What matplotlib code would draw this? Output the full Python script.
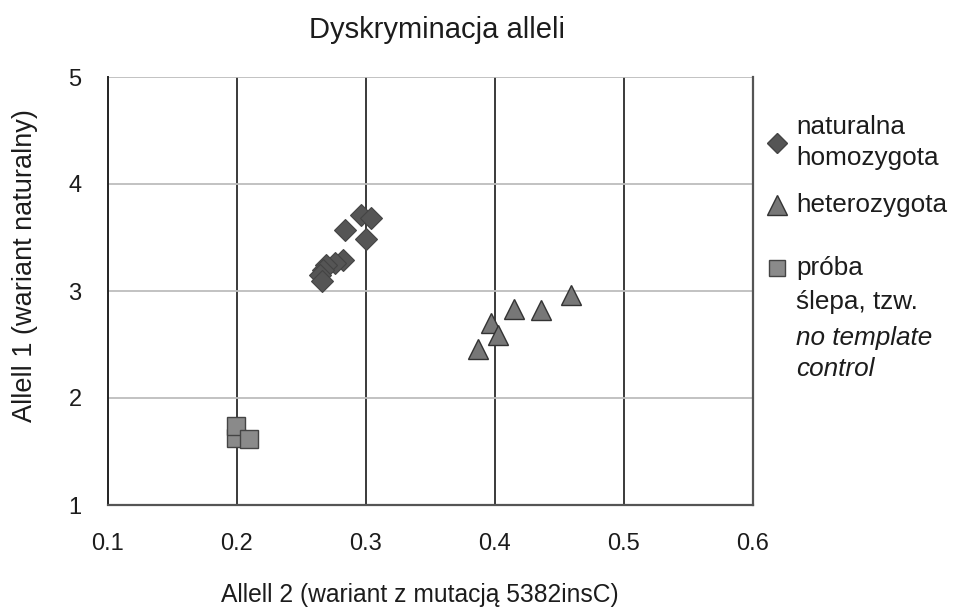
import matplotlib
matplotlib.use('Agg')
import matplotlib.pyplot as plt
from matplotlib.lines import Line2D

plt.rcParams['font.family'] = ['Liberation Sans', 'DejaVu Sans']

# data
homo_x = [0.296, 0.304, 0.284, 0.300, 0.282, 0.276, 0.269, 0.267, 0.264, 0.266]
homo_y = [3.71, 3.68, 3.57, 3.49, 3.29, 3.26, 3.24, 3.20, 3.15, 3.09]
hetero_x = [0.387, 0.397, 0.402, 0.4145, 0.436, 0.459]
hetero_y = [2.46, 2.70, 2.59, 2.83, 2.82, 2.96]
ntc_x = [0.199, 0.199, 0.209]
ntc_y = [1.63, 1.74, 1.62]

x_ticks = [0.1, 0.2, 0.3, 0.4, 0.5, 0.6]
y_ticks = [1, 2, 3, 4, 5]

TXT = '#1c1c1c'
W, H = 954, 614
fig = plt.figure(figsize=(W / 100, H / 100), dpi=100)
ax = fig.add_axes([108 / W, 1 - 505 / H, (753 - 108) / W, (505 - 77) / H])

ax.set_xlim(0.1, 0.6)
ax.set_ylim(1, 5)
ax.set_xticks(x_ticks)
ax.set_yticks(y_ticks)
ax.set_xticklabels(['%.1f' % v for v in x_ticks])
ax.set_yticklabels([str(v) for v in y_ticks])
ax.tick_params(length=0, labelsize=17, colors=TXT)
ax.tick_params(axis='x', pad=20)
ax.tick_params(axis='y', pad=19)

# grid: dark verticals, light horizontals
for v in x_ticks[1:-1]:
    ax.axvline(v, color='#3a3a3a', lw=1.4, zorder=1)
for v in y_ticks[1:]:
    ax.axhline(v, color='#bdbdbd', lw=1.3, zorder=1)

ax.spines['top'].set_visible(False)
ax.spines['left'].set_color('#222222')
ax.spines['left'].set_linewidth(1.4)
ax.spines['bottom'].set_color('#555555')
ax.spines['bottom'].set_linewidth(1.6)
ax.spines['right'].set_color('#555555')
ax.spines['right'].set_linewidth(1.6)

ax.plot(homo_x, homo_y, ls='none', marker='D', ms=11, mfc='#555555',
        mec='#444444', mew=0.8, zorder=3)
ax.plot(hetero_x, hetero_y, ls='none', marker='^', ms=14, mfc='#777777',
        mec='#333333', mew=1.0, zorder=3)
for x, y in zip(ntc_x, ntc_y):
    ax.plot([x], [y], ls='none', marker='s', ms=12.5, mfc='#8a8a8a',
            mec='#444444', mew=1.0, zorder=3)

# title and axis labels
fig.text(437 / W, 1 - 38 / H, 'Dyskryminacja alleli', ha='center',
         va='baseline', fontsize=21, color=TXT)
fig.text(420 / W, 1 - 602 / H, 'Allell 2 (wariant z mutacją 5382insC)',
         ha='center', va='baseline', fontsize=17.7, color=TXT)
fig.text(25 / W, 1 - 266 / H, 'Allell 1 (wariant naturalny)', ha='center',
         va='center', rotation=90, fontsize=19.5, color=TXT)

# legend drawn by hand
def px(x, y):
    return x / W, 1 - y / H

lx, tx = 777, 796
fig.add_artist(Line2D(*zip(px(lx, 143)), marker='D', ms=10.5, mfc='#555555',
                      mec='#444444', ls='none', transform=fig.transFigure))
fig.add_artist(Line2D(*zip(px(lx, 205)), marker='^', ms=15, mfc='#777777',
                      mec='#333333', ls='none', transform=fig.transFigure))
fig.add_artist(Line2D(*zip(px(lx, 268)), marker='s', ms=12, mfc='#8a8a8a',
                      mec='#444444', ls='none', transform=fig.transFigure))

legend_lines = [
    (127, 'naturalna', 'normal'),
    (158, 'homozygota', 'normal'),
    (205, 'heterozygota', 'normal'),
    (268, 'próba', 'normal'),
    (302, 'ślepa, tzw.', 'normal'),
    (338, 'no template', 'italic'),
    (369, 'control', 'italic'),
]
for y, txt, style in legend_lines:
    fig.text(*px(tx, y), txt, ha='left', va='center', fontsize=18.8,
             style=style, color=TXT)

fig.savefig('out.png', dpi=100)
